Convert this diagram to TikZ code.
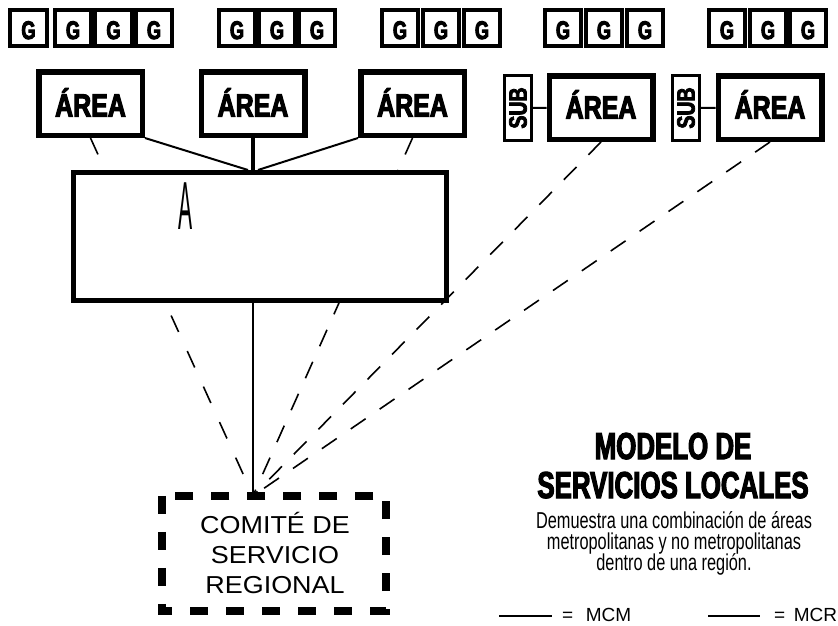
\documentclass[tikz,border=0pt]{standalone}
\usepackage{fontspec}
\setmainfont{Liberation Sans}
\newfontfamily\fG{Liberation Sans}[FakeStretch=0.71,FakeBold=4]
\newfontfamily\fArea{Liberation Sans}[FakeStretch=0.78,FakeBold=3.5]
\newfontfamily\fSub{Liberation Sans}[FakeStretch=0.78,FakeBold=3]
\newfontfamily\fTitle{Liberation Sans}[FakeStretch=0.69,FakeBold=3]
\newfontfamily\fBody{Liberation Sans}[FakeStretch=0.71]
\newfontfamily\fCom{Liberation Sans}[FakeStretch=1.1]
\newfontfamily\fBigA{Liberation Sans}[FakeStretch=0.31]
\newcommand\mylines[2]{\vtop{\baselineskip=#1\lineskiplimit=-1000pt\lineskip=0pt\halign{\hfil##\hfil\cr#2\crcr}}}
\usetikzlibrary{calc}
\pgfdeclarelayer{background}
\pgfsetlayers{background,main}
\begin{document}
\begin{tikzpicture}[x=1pt,y=-1pt,
  gbox/.style={draw, line width=4pt, fill=white, minimum width=36.5pt, minimum height=36pt,
    inner sep=0pt, text height=22pt, text depth=0pt, font=\fG\bfseries\fontsize{25.5}{25}\selectfont},
  abox/.style={draw, line width=5.5pt, fill=white, minimum width=103.5pt, minimum height=63.5pt,
    inner sep=0pt, text depth=0pt, font=\fArea\bfseries\fontsize{32}{32}\selectfont},
  subbox/.style={draw, line width=3pt, fill=white, minimum width=65pt, minimum height=27pt,
    inner sep=0pt, rotate=90, font=\fSub\bfseries\fontsize{25}{25}\selectfont},
  dline/.style={line width=1.6pt, dash pattern=on 18pt off 17pt},
  thinline/.style={line width=1.6pt},
  linkline/.style={line width=2pt},
  txt/.style={inner sep=0pt}
]
\begin{pgfonlayer}{background}
\fill[white] (0,0) rectangle (838,625);
\end{pgfonlayer}
\useasboundingbox (0,0) rectangle (838,625);

% G rows
\node[gbox] (g11) at (28.5,28) {G};
\node[gbox] (g12) at (73,28) {G};
\node[gbox] (g13) at (113.5,28) {G};
\node[gbox] (g14) at (154,28) {G};
\node[gbox] (g21) at (237,28) {G};
\node[gbox] (g22) at (277,28) {G};
\node[gbox] (g23) at (317,28) {G};
\node[gbox] (g31) at (400,28) {G};
\node[gbox] (g32) at (441,28) {G};
\node[gbox] (g33) at (482,28) {G};
\node[gbox] (g41) at (563,28) {G};
\node[gbox] (g42) at (604,28) {G};
\node[gbox] (g43) at (645,28) {G};
\node[gbox] (g51) at (727,28) {G};
\node[gbox] (g52) at (768,28) {G};
\node[gbox] (g53) at (808,28) {G};

% areas
\node[abox, text height=26pt] (a1) at (90.5,103.5) {ÁREA};
\node[abox, text height=26pt] (a2) at (253,103.5) {ÁREA};
\node[abox, text height=26pt] (a3) at (412.5,103.5) {ÁREA};
\node[abox, text height=22pt] (a4) at (601,107.5) {ÁREA};
\node[abox, text height=22pt] (a5) at (770,107.5) {ÁREA};
\node[subbox] (s1) at (518,108) {SUB};
\node[subbox] (s2) at (686,108) {SUB};

% big box
\node[draw, line width=5pt, fill=white, minimum width=373pt, minimum height=128pt, inner sep=0pt] (big) at (260,236.5) {};
\node[txt, anchor=base, font=\fBigA\fontsize{68}{68}\selectfont] (bigA) at (186,229) {A};

% comite
\node[txt, minimum width=224pt, minimum height=115pt] (com) at (274,553.5) {};
\node[txt, anchor=base, font=\fCom\fontsize{24.5}{30}\selectfont] (comtxt) at (275,533)
  {\mylines{30pt}{COMITÉ DE\cr SERVICIO\cr REGIONAL}};
\draw[line width=8pt, dash pattern=on 18pt off 18pt] (com.north west) rectangle (com.south east);
\coordinate (c) at (a2.south |- com.north);

% connectors (behind)
\begin{pgfonlayer}{background}
\draw[dline, dash pattern=on 18pt off 21pt] (a1.south) -- (c);
\draw[dline] (a3.south) -- (c);
\draw[dline] (a4.south) -- (c);
\draw[dline] (a5.south) -- (c);
\draw[thinline] (c |- big.south) -- (c);
\draw[linkline] (a1.south east) -- ($(a2.south |- big.north)+(-5,0)$);
\draw[linkline] (a3.south west) -- ($(a2.south |- big.north)+(5,0)$);
\draw[line width=4.5pt] (a2.south) -- (a2.south |- big.north);
\draw[linkline] (s1) -- (a4);
\draw[linkline] (s2) -- (a5);
\end{pgfonlayer}

% title and description
\node[txt, anchor=base, font=\fTitle\bfseries\fontsize{37.5}{39}\selectfont] (title) at (673,459)
  {\mylines{39pt}{MODELO DE\cr SERVICIOS LOCALES}};
\node[txt, anchor=base, font=\fBody\fontsize{23}{21}\selectfont] (desc) at (674,528)
  {\mylines{21pt}{Demuestra una combinación de áreas\cr metropolitanas y no metropolitanas\cr dentro de una región.}};

% legend
\node[txt, anchor=base west, font=\fontsize{19}{19}\selectfont] (leg1) at (562,621) {=\hspace{12.6pt}MCM};
\node[txt, anchor=base west, font=\fontsize{19}{19}\selectfont] (leg2) at (774,621) {=\hspace{8.6pt}MCR};
\draw[thinline] ($(leg1.base west)+(-63,-5)$) -- ($(leg1.base west)+(-10,-5)$);
\draw[thinline] ($(leg2.base west)+(-66,-5)$) -- ($(leg2.base west)+(-14,-5)$);
\end{tikzpicture}
\end{document}
